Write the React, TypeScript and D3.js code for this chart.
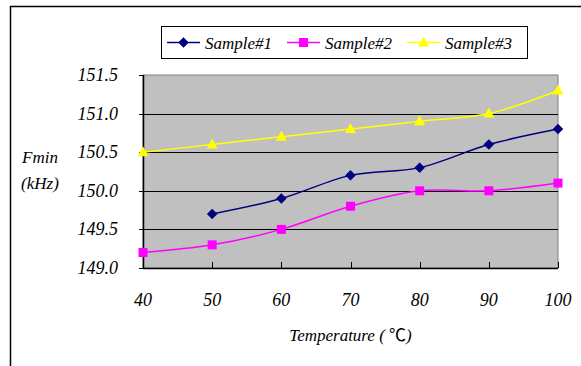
import React from "react";
import * as d3 from "d3";

const temps = [40, 50, 60, 70, 80, 90, 100];
const sample1: (number | null)[] = [null, 149.7, 149.9, 150.2, 150.3, 150.6, 150.8];
const sample2: (number | null)[] = [149.2, 149.3, 149.5, 149.8, 150.0, 150.0, 150.1];
const sample3: (number | null)[] = [150.5, 150.6, 150.7, 150.8, 150.9, 151.0, 151.3];
const seriesNames = ["Sample#1", "Sample#2", "Sample#3"];
const seriesColors = ["#000080", "#ff00ff", "#ffff00"];
const yTicks = [149.0, 149.5, 150.0, 150.5, 151.0, 151.5];

const W = 581, H = 366;
const plot = { l: 143, r: 558, t: 75, b: 268 };

function Marker({ kind, x, y, color }: { kind: number; x: number; y: number; color: string }) {
  if (kind === 0) {
    const s = 5;
    return <path d={`M${x},${y - s}L${x + s},${y}L${x},${y + s}L${x - s},${y}Z`} fill={color} stroke={color} strokeWidth={0.5} />;
  }
  if (kind === 1) {
    return <rect x={x - 4.5} y={y - 4.5} width={9} height={9} fill={color} />;
  }
  return <path d={`M${x},${y - 6}L${x + 5.5},${y + 4}L${x - 5.5},${y + 4}Z`} fill={color} />;
}

export default function App() {
  const x = d3.scaleLinear().domain([40, 100]).range([plot.l, plot.r]);
  const y = d3.scaleLinear().domain([149, 151.5]).range([plot.b, plot.t]);
  const all = [sample1, sample2, sample3];
  const line = d3
    .line<[number, number | null]>()
    .defined((d) => d[1] !== null)
    .x((d) => x(d[0]))
    .y((d) => y(d[1] as number))
    .curve(d3.curveCatmullRom.alpha(0.5));

  const legendItems = [
    { lx: 167, tx: 205 },
    { lx: 287, tx: 325 },
    { lx: 407, tx: 445 },
  ];

  return (
    <svg width={W} height={H} style={{ display: "block", position: "absolute", left: 0, top: 0 }}>
      <style>{`.lbl { font-family: "Liberation Serif", "Times New Roman", serif !important; font-style: italic; fill: #000; } .cjk { font-family: "Noto Sans CJK SC" !important; font-style: normal; }`}</style>
      <rect x={0} y={0} width={W} height={H} fill="#fff" />
      <path d={`M10.5,${H}V6.5H${W}`} fill="none" stroke="#000" strokeWidth={1.5} />
      <rect x={plot.l} y={plot.t} width={plot.r - plot.l} height={plot.b - plot.t} fill="#c0c0c0" stroke="#808080" strokeWidth={1} />
      {yTicks.slice(1, -1).map((t) => (
        <line key={t} x1={plot.l} x2={plot.r} y1={Math.round(y(t)) + 0.5} y2={Math.round(y(t)) + 0.5} stroke="#000" strokeWidth={1} />
      ))}
      <line x1={plot.l + 0.5} x2={plot.l + 0.5} y1={plot.t} y2={plot.b} stroke="#000" strokeWidth={1.5} />
      <line x1={plot.l} x2={plot.r} y1={plot.b + 0.5} y2={plot.b + 0.5} stroke="#000" strokeWidth={1.5} />
      {yTicks.map((t) => (
        <line key={"yt" + t} x1={plot.l - 4} x2={plot.l} y1={Math.round(y(t)) + 0.5} y2={Math.round(y(t)) + 0.5} stroke="#000" />
      ))}
      {temps.map((t) => (
        <line key={"xt" + t} x1={Math.round(x(t)) + 0.5} x2={Math.round(x(t)) + 0.5} y1={plot.b} y2={plot.b - 6} stroke="#000" />
      ))}
      {yTicks.map((t) => (
        <text key={"yl" + t} className="lbl" x={118} y={y(t) + 6} fontSize={18} textAnchor="end">
          {t.toFixed(1)}
        </text>
      ))}
      {temps.map((t) => (
        <text key={"xl" + t} className="lbl" x={x(t)} y={306} fontSize={18} textAnchor="middle">
          {t}
        </text>
      ))}
      <text className="lbl" x={40} y={163} fontSize={17} textAnchor="middle">Fmin</text>
      <text className="lbl" x={40} y={189} fontSize={17} textAnchor="middle">(kHz)</text>
      <text className="lbl" x={(plot.l + plot.r) / 2} y={341} fontSize={17} textAnchor="middle">
        Temperature ( <tspan className="cjk">℃</tspan>)
      </text>
      {all.map((s, i) => {
        const pts = temps.map((t, j) => [t, s[j]] as [number, number | null]);
        return (
          <g key={"s" + i}>
            <path d={line(pts) || ""} fill="none" stroke={seriesColors[i]} strokeWidth={1.5} />
            {pts
              .filter((p) => p[1] !== null)
              .map((p) => (
                <Marker key={p[0]} kind={i} x={x(p[0])} y={y(p[1] as number)} color={seriesColors[i]} />
              ))}
          </g>
        );
      })}
      <rect x={161.5} y={26.5} width={366} height={32} fill="#fff" stroke="#000" strokeWidth={1} />
      {seriesNames.map((n, i) => (
        <g key={"lg" + i}>
          <line x1={legendItems[i].lx} x2={legendItems[i].lx + 33} y1={42.5} y2={42.5} stroke={seriesColors[i]} strokeWidth={1.5} />
          <Marker kind={i} x={legendItems[i].lx + 16.5} y={42.5} color={seriesColors[i]} />
          <text className="lbl" x={legendItems[i].tx} y={49} fontSize={17}>{n}</text>
        </g>
      ))}
    </svg>
  );
}
